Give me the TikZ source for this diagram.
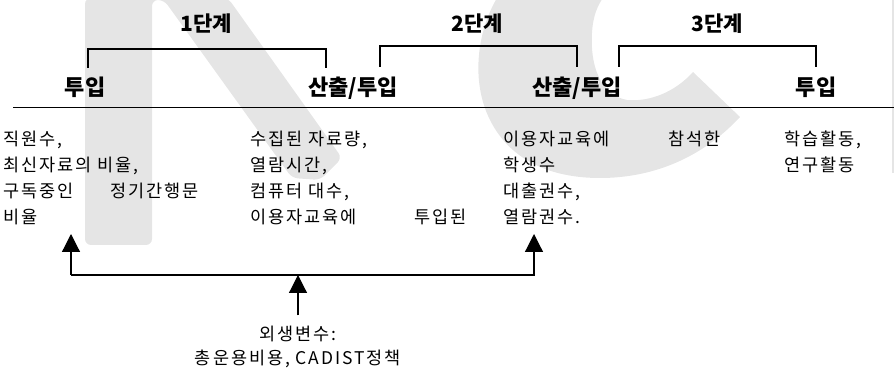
\documentclass[tikz,border=0pt]{standalone}
\usepackage{fontspec}
\setmainfont{Noto Sans CJK KR}
\newfontfamily\bodyfont{Noto Sans CJK KR}[LetterSpace=11]
\usetikzlibrary{arrows.meta}
\definecolor{markgray}{gray}{0.9}
\tikzstyle{stage} = [font=\fontsize{21}{24}\selectfont\bfseries, anchor=base, inner sep=0pt]
\tikzstyle{head} = [font=\fontsize{22}{24}\selectfont\bfseries, anchor=base, inner sep=0pt]
\tikzstyle{body} = [font=\bodyfont\fontsize{17.5}{20}\selectfont, anchor=base west, inner sep=0pt]
\tikzstyle{bracket} = [line width=1.1pt]
\tikzstyle{arrow} = [line width=1.2pt,-{Triangle[width=18pt,length=18pt]}]
\begin{document}
\begin{tikzpicture}[x=1pt,y=-1pt]
\useasboundingbox (0,0) rectangle (894,371);

% watermark
\fill [markgray, rounded corners=6pt] (85,-2) -- (228,-2) -- (342,158) -- (320,180) -- (292,178) -- (164,0) -- (152,0) -- (152,245) -- (85,245) -- cycle;
\fill [markgray] (497,-2) .. controls (478,30) and (470,80) .. (490,120) .. controls (510,160) and (550,178) .. (600,178) .. controls (650,178) and (700,160) .. (740,117) -- (693,72) .. controls (675,92) and (650,102) .. (627,100) .. controls (600,95) and (590,65) .. (592,33) .. controls (593,15) and (598,5) .. (603,-2) -- cycle;
\draw [markgray, line width=2pt] (893,0) -- (893,173);

% stages
\node (s1) [stage] at (206,32) {1단계};
\node (s2) [stage] at (477,32) {2단계};
\node (s3) [stage] at (717,32) {3단계};

\node (h1) [head] at (85,96) {투입};
\node (h2) [head] at (353,96) {산출/투입};
\node (h3) [head] at (577,96) {산출/투입};
\node (h4) [head] at (816,96) {투입};

\coordinate (b1l) at (88,68);
\coordinate (b1r) at (326,68);
\coordinate (b2l) at (380,67);
\coordinate (b2r) at (577,67);
\coordinate (b3l) at (619,67);
\coordinate (b3r) at (816,67);
\draw [bracket] (b1l) -- ++(0,-19) -| (b1r);
\draw [bracket] (b2l) -- ++(0,-21) -| (b2r);
\draw [bracket] (b3l) -- ++(0,-21) -| (b3r);

\draw [line width=0.9pt] (13,107) -- (894,107);

% variables
\node (c1a) [body] at (3,146) {직원수,};
\node (c1b) [body] at (3,171.8) {최신자료의 비율,};
\node (c1c) [body] at (3,197.6) {구독중인};
\node (c1e) [body] at (110,197.6) {정기간행문};
\node (c1d) [body] at (3,223.4) {비율};

\node (c2a) [body] at (250,146) {수집된 자료량,};
\node (c2b) [body] at (250,171.8) {열람시간,};
\node (c2c) [body] at (250,197.6) {컴퓨터 대수,};
\node (c2d) [body] at (250,223.4) {이용자교육에};
\node (c2e) [body] at (414,223.4) {투입된};

\node (c3a) [body] at (503,146) {이용자교육에};
\node (c3e) [body] at (668,146) {참석한};
\node (c3b) [body] at (503,171.8) {학생수};
\node (c3c) [body] at (503,197.6) {대출권수,};
\node (c3d) [body] at (503,223.4) {열람권수.};

\node (c4a) [body] at (784,146) {학습활동,};
\node (c4b) [body] at (784,171.8) {연구활동};

% exogenous
\node (ex1) [body, anchor=base] at (298,341) {외생변수:};
\node (ex2) [body, anchor=base] at (298,364) {총운용비용, CADIST정책};

\coordinate (busL) at (71,275);
\coordinate (tipL) at (71,234);
\coordinate (tipR) at (534,234);
\draw [arrow] (busL) -- (tipL);
\draw [arrow] (busL) -| (tipR);
\draw [arrow] ([yshift=11pt]ex1.north) -- (ex1.north |- busL);
\end{tikzpicture}
\end{document}
